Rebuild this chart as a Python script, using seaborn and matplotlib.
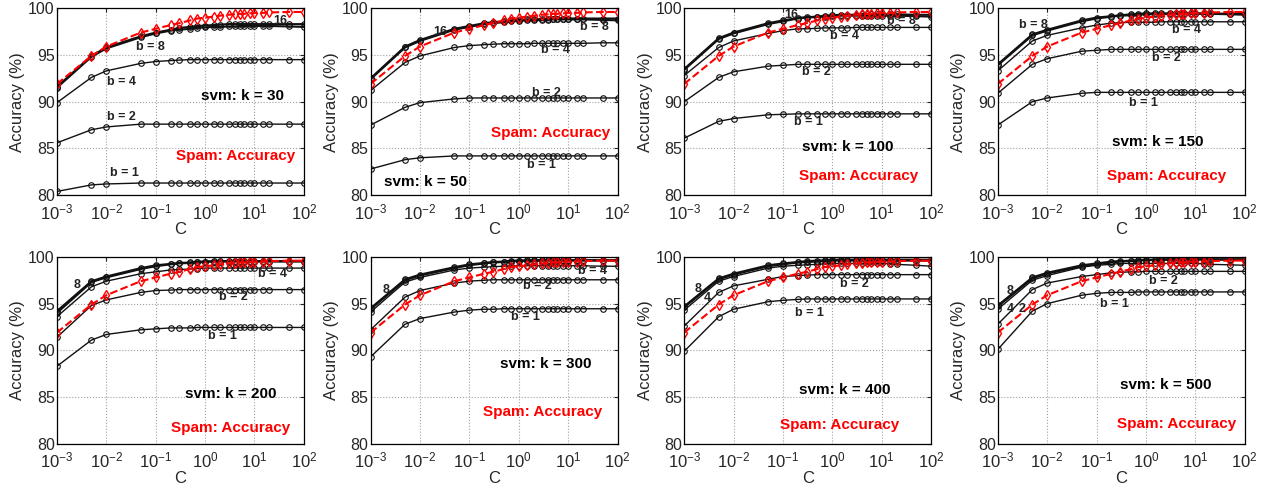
import numpy as np
import pandas as pd
import matplotlib
matplotlib.use("Agg")
import matplotlib.pyplot as plt
import seaborn as sns

C = [0.001, 0.005, 0.01, 0.05, 0.1, 0.2, 0.3, 0.5, 0.7, 1, 1.5, 2, 3, 4, 5, 6, 8, 10, 15, 20, 50, 100]

orig = [91.9, 94.9, 95.9, 97.4, 97.8, 98.2, 98.4, 98.7, 98.9, 99.0, 99.1, 99.2, 99.3, 99.35, 99.4, 99.4, 99.45, 99.5, 99.5, 99.55, 99.6, 99.6]

k_values = [30, 50, 100, 150, 200, 300, 400, 500]

acc_k30 = {
    1: [80.4, 81.1, 81.2, 81.3, 81.3, 81.3, 81.3, 81.3, 81.3, 81.3, 81.3, 81.3, 81.3, 81.3, 81.3, 81.3, 81.3, 81.3, 81.3, 81.3, 81.3, 81.3],
    2: [85.6, 87.0, 87.3, 87.6, 87.6, 87.6, 87.6, 87.6, 87.6, 87.6, 87.6, 87.6, 87.6, 87.6, 87.6, 87.6, 87.6, 87.6, 87.6, 87.6, 87.6, 87.6],
    4: [89.9, 92.6, 93.3, 94.1, 94.3, 94.4, 94.45, 94.5, 94.5, 94.5, 94.5, 94.5, 94.5, 94.5, 94.5, 94.5, 94.5, 94.5, 94.5, 94.5, 94.5, 94.5],
    8: [91.5, 94.8, 95.7, 96.9, 97.3, 97.6, 97.7, 97.8, 97.9, 97.95, 98.0, 98.0, 98.05, 98.05, 98.1, 98.1, 98.1, 98.1, 98.1, 98.1, 98.05, 98.0],
    16: [91.6, 94.9, 95.8, 97.0, 97.4, 97.7, 97.9, 98.0, 98.1, 98.15, 98.2, 98.25, 98.3, 98.3, 98.3, 98.3, 98.3, 98.3, 98.3, 98.3, 98.3, 98.3],
}
acc_k50 = {
    1: [82.8, 83.8, 84.0, 84.2, 84.2, 84.2, 84.2, 84.2, 84.2, 84.2, 84.2, 84.2, 84.2, 84.2, 84.2, 84.2, 84.2, 84.2, 84.2, 84.2, 84.2, 84.2],
    2: [87.5, 89.4, 89.9, 90.3, 90.4, 90.4, 90.4, 90.4, 90.4, 90.4, 90.4, 90.4, 90.4, 90.4, 90.4, 90.4, 90.4, 90.4, 90.4, 90.4, 90.4, 90.4],
    4: [91.2, 94.2, 94.9, 95.8, 96.0, 96.1, 96.15, 96.2, 96.2, 96.2, 96.2, 96.25, 96.25, 96.25, 96.25, 96.25, 96.25, 96.25, 96.25, 96.25, 96.3, 96.3],
    8: [92.4, 95.8, 96.5, 97.7, 98.0, 98.3, 98.4, 98.5, 98.6, 98.65, 98.7, 98.7, 98.75, 98.75, 98.8, 98.8, 98.8, 98.8, 98.8, 98.8, 98.75, 98.7],
    16: [92.5, 95.9, 96.6, 97.8, 98.1, 98.4, 98.5, 98.6, 98.7, 98.75, 98.8, 98.8, 98.85, 98.85, 98.9, 98.9, 98.9, 98.9, 98.9, 98.9, 98.9, 98.9],
}
acc_k100 = {
    1: [86.1, 87.9, 88.2, 88.6, 88.65, 88.7, 88.7, 88.7, 88.7, 88.7, 88.7, 88.7, 88.7, 88.7, 88.7, 88.7, 88.7, 88.7, 88.7, 88.7, 88.7, 88.7],
    2: [90.0, 92.6, 93.2, 93.8, 93.9, 94.0, 94.0, 94.0, 94.0, 94.0, 94.0, 94.0, 94.0, 94.0, 94.0, 94.0, 94.0, 94.0, 94.0, 94.0, 94.0, 94.0],
    4: [92.8, 95.8, 96.5, 97.3, 97.6, 97.8, 97.8, 97.85, 97.9, 97.9, 97.9, 97.9, 97.95, 97.95, 97.95, 97.95, 97.95, 97.95, 97.95, 97.95, 97.95, 97.95],
    8: [93.4, 96.7, 97.3, 98.3, 98.6, 98.9, 99.0, 99.05, 99.1, 99.15, 99.2, 99.2, 99.2, 99.2, 99.2, 99.2, 99.2, 99.2, 99.2, 99.2, 99.15, 99.1],
    16: [93.5, 96.8, 97.4, 98.4, 98.7, 98.95, 99.05, 99.1, 99.2, 99.25, 99.3, 99.3, 99.3, 99.35, 99.35, 99.35, 99.35, 99.35, 99.35, 99.35, 99.3, 99.3],
}
acc_k150 = {
    1: [87.5, 90.0, 90.4, 90.9, 91.0, 91.0, 91.0, 91.0, 91.0, 91.0, 91.0, 91.0, 91.0, 91.0, 91.0, 91.0, 91.0, 91.0, 91.0, 91.0, 91.0, 91.0],
    2: [90.9, 94.0, 94.6, 95.4, 95.5, 95.6, 95.6, 95.6, 95.6, 95.6, 95.6, 95.6, 95.6, 95.6, 95.6, 95.6, 95.6, 95.6, 95.6, 95.6, 95.6, 95.6],
    4: [93.3, 96.5, 97.1, 97.9, 98.2, 98.4, 98.45, 98.5, 98.5, 98.5, 98.5, 98.55, 98.55, 98.55, 98.55, 98.55, 98.55, 98.55, 98.55, 98.55, 98.55, 98.55],
    8: [93.9, 97.1, 97.6, 98.6, 98.9, 99.1, 99.2, 99.25, 99.3, 99.35, 99.35, 99.35, 99.4, 99.4, 99.4, 99.4, 99.4, 99.4, 99.4, 99.4, 99.35, 99.3],
    16: [94.0, 97.2, 97.7, 98.7, 99.0, 99.15, 99.25, 99.35, 99.4, 99.45, 99.45, 99.45, 99.45, 99.45, 99.45, 99.45, 99.45, 99.45, 99.45, 99.45, 99.4, 99.4],
}
acc_k200 = {
    1: [88.3, 91.1, 91.7, 92.2, 92.3, 92.4, 92.4, 92.4, 92.45, 92.45, 92.45, 92.45, 92.45, 92.45, 92.45, 92.45, 92.45, 92.45, 92.45, 92.45, 92.45, 92.45],
    2: [91.4, 94.8, 95.4, 96.2, 96.4, 96.45, 96.5, 96.5, 96.5, 96.5, 96.5, 96.5, 96.5, 96.5, 96.5, 96.5, 96.5, 96.5, 96.5, 96.5, 96.5, 96.5],
    4: [93.6, 96.8, 97.4, 98.2, 98.4, 98.6, 98.65, 98.7, 98.75, 98.8, 98.8, 98.8, 98.8, 98.8, 98.8, 98.8, 98.8, 98.8, 98.8, 98.8, 98.8, 98.8],
    8: [94.0, 97.3, 97.8, 98.7, 99.0, 99.2, 99.3, 99.35, 99.4, 99.45, 99.5, 99.5, 99.5, 99.5, 99.5, 99.5, 99.5, 99.5, 99.5, 99.5, 99.5, 99.5],
    16: [94.2, 97.4, 97.9, 98.8, 99.1, 99.25, 99.35, 99.4, 99.5, 99.5, 99.55, 99.55, 99.55, 99.55, 99.55, 99.55, 99.55, 99.55, 99.55, 99.55, 99.55, 99.55],
}
acc_k300 = {
    1: [89.3, 92.8, 93.4, 94.1, 94.3, 94.4, 94.4, 94.45, 94.45, 94.45, 94.45, 94.45, 94.45, 94.45, 94.45, 94.45, 94.45, 94.45, 94.45, 94.45, 94.45, 94.45],
    2: [92.2, 95.7, 96.4, 97.2, 97.4, 97.5, 97.55, 97.55, 97.55, 97.55, 97.55, 97.55, 97.55, 97.55, 97.55, 97.55, 97.55, 97.55, 97.55, 97.55, 97.55, 97.55],
    4: [94.1, 97.3, 97.8, 98.6, 98.8, 98.9, 98.95, 99.0, 99.0, 99.05, 99.05, 99.05, 99.05, 99.05, 99.05, 99.05, 99.05, 99.05, 99.05, 99.05, 99.0, 99.0],
    8: [94.4, 97.5, 98.0, 98.8, 99.1, 99.3, 99.4, 99.45, 99.5, 99.55, 99.55, 99.55, 99.6, 99.6, 99.6, 99.6, 99.6, 99.6, 99.6, 99.6, 99.6, 99.6],
    16: [94.5, 97.6, 98.1, 98.9, 99.2, 99.35, 99.45, 99.5, 99.6, 99.6, 99.65, 99.65, 99.65, 99.65, 99.65, 99.65, 99.65, 99.65, 99.65, 99.65, 99.65, 99.65],
}
acc_k400 = {
    1: [89.9, 93.6, 94.4, 95.2, 95.35, 95.45, 95.5, 95.5, 95.5, 95.5, 95.5, 95.5, 95.5, 95.5, 95.5, 95.5, 95.5, 95.5, 95.5, 95.5, 95.5, 95.5],
    2: [92.6, 96.2, 96.9, 97.6, 97.9, 98.0, 98.05, 98.1, 98.1, 98.1, 98.1, 98.1, 98.1, 98.1, 98.1, 98.1, 98.1, 98.1, 98.1, 98.1, 98.1, 98.1],
    4: [94.3, 97.4, 97.9, 98.8, 99.0, 99.1, 99.15, 99.2, 99.25, 99.3, 99.3, 99.3, 99.3, 99.3, 99.3, 99.3, 99.3, 99.3, 99.25, 99.2, 99.1, 99.0],
    8: [94.6, 97.6, 98.1, 99.0, 99.2, 99.4, 99.45, 99.5, 99.55, 99.6, 99.6, 99.6, 99.6, 99.6, 99.6, 99.6, 99.6, 99.6, 99.6, 99.6, 99.6, 99.6],
    16: [94.7, 97.7, 98.2, 99.1, 99.3, 99.45, 99.55, 99.6, 99.65, 99.7, 99.7, 99.7, 99.7, 99.7, 99.7, 99.7, 99.7, 99.7, 99.7, 99.7, 99.7, 99.7],
}
acc_k500 = {
    1: [90.1, 94.2, 95.0, 95.9, 96.1, 96.2, 96.2, 96.2, 96.25, 96.25, 96.25, 96.25, 96.25, 96.25, 96.25, 96.25, 96.25, 96.25, 96.25, 96.25, 96.25, 96.25],
    2: [92.8, 96.5, 97.2, 97.9, 98.1, 98.3, 98.35, 98.4, 98.4, 98.45, 98.45, 98.45, 98.45, 98.45, 98.45, 98.45, 98.45, 98.45, 98.45, 98.45, 98.45, 98.45],
    4: [94.4, 97.5, 98.0, 98.9, 99.1, 99.2, 99.3, 99.3, 99.3, 99.3, 99.3, 99.3, 99.3, 99.3, 99.3, 99.3, 99.3, 99.3, 99.25, 99.2, 99.15, 99.1],
    8: [94.7, 97.7, 98.2, 99.0, 99.2, 99.4, 99.5, 99.55, 99.6, 99.65, 99.65, 99.65, 99.7, 99.7, 99.7, 99.7, 99.7, 99.7, 99.7, 99.7, 99.7, 99.7],
    16: [94.8, 97.8, 98.3, 99.1, 99.3, 99.5, 99.55, 99.6, 99.65, 99.7, 99.7, 99.75, 99.75, 99.75, 99.75, 99.75, 99.75, 99.75, 99.75, 99.75, 99.75, 99.75],
}
all_acc = [acc_k30, acc_k50, acc_k100, acc_k150, acc_k200, acc_k300, acc_k400, acc_k500]

# curve labels: (text, fx, fy) in axes fraction
curve_labels = [
    [("b = 8", 0.38, 0.795), ("b = 4", 0.26, 0.607), ("b = 2", 0.26, 0.416), ("b = 1", 0.275, 0.116), ("16", 0.906, 0.932)],
    [("16", 0.284, 0.871), ("b = 8", 0.905, 0.90), ("b = 4", 0.75, 0.777), ("b = 2", 0.71, 0.545), ("b = 1", 0.69, 0.16)],
    [("16", 0.434, 0.964), ("b = 8", 0.88, 0.934), ("b = 4", 0.65, 0.85), ("b = 2", 0.537, 0.66), ("b = 1", 0.503, 0.393)],
    [("b = 8", 0.142, 0.911), ("b = 4", 0.764, 0.884), ("b = 2", 0.682, 0.732), ("b = 1", 0.588, 0.495)],
    [("8", 0.081, 0.848), ("b = 4", 0.872, 0.91), ("b = 2", 0.716, 0.786), ("b = 1", 0.669, 0.577)],
    [("8", 0.061, 0.821), ("b = 4", 0.899, 0.923), ("b = 2", 0.676, 0.843), ("b = 1", 0.628, 0.679)],
    [("8", 0.057, 0.83), ("4", 0.095, 0.78), ("b = 2", 0.689, 0.857), ("b = 1", 0.507, 0.70)],
    [("8", 0.05, 0.818), ("4", 0.05, 0.72), ("2", 0.097, 0.72), ("b = 2", 0.669, 0.871), ("b = 1", 0.473, 0.746)],
]
svm_pos = [(0.752, 0.532), (0.223, 0.07), (0.664, 0.26), (0.649, 0.286),
           (0.703, 0.268), (0.709, 0.429), (0.649, 0.286), (0.682, 0.313)]
spam_pos = [(0.725, 0.21), (0.73, 0.33), (0.705, 0.10), (0.682, 0.104),
            (0.703, 0.086), (0.696, 0.17), (0.628, 0.10), (0.723, 0.107)]

sns.set_style("white")
plt.rcParams['font.family'] = ['Liberation Sans', 'DejaVu Sans']
plt.rcParams['mathtext.fontset'] = 'custom'
plt.rcParams['mathtext.rm'] = 'Liberation Sans'
plt.rcParams['mathtext.it'] = 'Liberation Sans'

fig, axes = plt.subplots(2, 4, figsize=(12.65, 4.84), dpi=100)
fig.subplots_adjust(left=0.045, right=0.984, top=0.983, bottom=0.083, wspace=0.27, hspace=0.33)

for i, ax in enumerate(axes.flat):
    acc = all_acc[i]
    for b in [1, 2, 4, 8, 16]:
        lw = 1.0 if b <= 4 else 1.5
        sns.lineplot(x=C, y=acc[b], ax=ax, color='#111111', linewidth=lw,
                     marker='o', markersize=4, markerfacecolor='none',
                     markeredgecolor='#111111', markeredgewidth=0.8,
                     estimator=None, sort=False, legend=False)
    sns.lineplot(x=C, y=orig, ax=ax, color='red', linewidth=1.5, linestyle='--',
                 marker='d', markersize=5, markerfacecolor='none',
                 markeredgecolor='red', markeredgewidth=1.0,
                 estimator=None, sort=False, legend=False)
    ax.set_xscale('log')
    ax.set_xlim(1e-3, 1e2)
    ax.set_ylim(80, 100)
    ax.set_xticks([1e-3, 1e-2, 1e-1, 1e0, 1e1, 1e2])
    ax.set_xticklabels([r'$10^{-3}$', r'$10^{-2}$', r'$10^{-1}$', r'$10^{0}$', r'$10^{1}$', r'$10^{2}$'])
    ax.set_yticks([80, 85, 90, 95, 100])
    ax.minorticks_off()
    ax.grid(True, which='major', linestyle=':', color='#a0a0a0', linewidth=0.8)
    ax.tick_params(direction='in', labelsize=12, length=3, width=0.8, top=True, right=True)
    ax.tick_params(axis='x', pad=5)
    ax.tick_params(axis='y', pad=1.5, labelsize=11.5)
    for s in ax.spines.values():
        s.set_color('black')
        s.set_linewidth(0.9)
    ax.set_xlabel('C', fontsize=12, labelpad=0)
    ax.set_ylabel('Accuracy (%)', fontsize=12, labelpad=2)
    for txt, fx, fy in curve_labels[i]:
        ax.text(fx, fy, txt, transform=ax.transAxes, fontsize=9, fontweight='bold',
                ha='center', va='center', color='#222222')
    sx, sy = svm_pos[i]
    ax.text(sx, sy, f'svm: k = {k_values[i]}', transform=ax.transAxes, fontsize=11,
            fontweight='bold', ha='center', va='center', color='black')
    px, py = spam_pos[i]
    ax.text(px, py, 'Spam: Accuracy', transform=ax.transAxes, fontsize=11,
            fontweight='bold', ha='center', va='center', color='red')

fig.savefig('out.png', dpi=100)
